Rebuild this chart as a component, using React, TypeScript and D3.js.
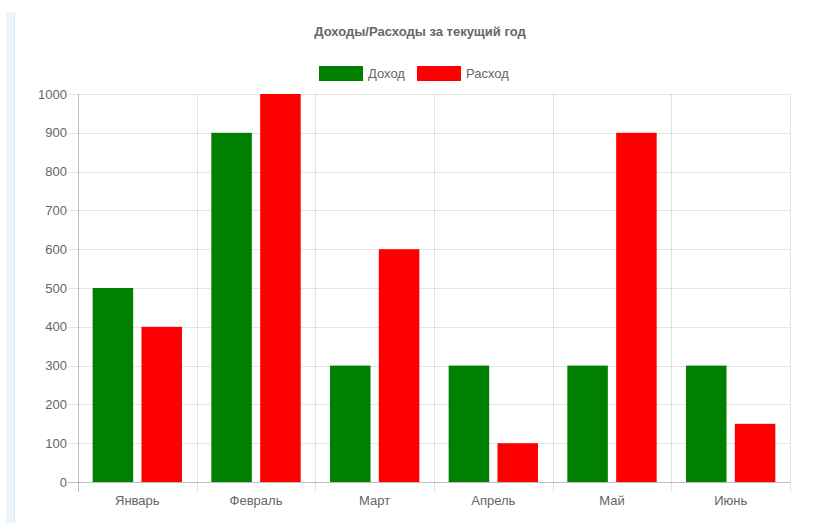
import React, { useRef, useEffect } from 'react';
import * as d3 from 'd3';

const months = ['Январь', 'Февраль', 'Март', 'Апрель', 'Май', 'Июнь'];
const seriesNames = ['Доход', 'Расход'];
const seriesColors = ['#008000', '#ff0000'];
const income = [500, 900, 300, 300, 300, 300];
const expense = [400, 1000, 600, 100, 900, 150];
const yTicks = [0, 100, 200, 300, 400, 500, 600, 700, 800, 900, 1000];
const title = 'Доходы/Расходы за текущий год';

const W = 814;
const H = 523;
const FONT = '"Liberation Sans", Arial, Helvetica, sans-serif';

export default function App() {
  const svgRef = useRef<SVGSVGElement | null>(null);

  useEffect(() => {
    const svg = d3.select(svgRef.current);
    svg.selectAll('*').remove();

    const left = 78;
    const right = 790;
    const top = 94;
    const bottom = 482;

    // светлая полоса слева
    svg.append('rect').attr('x', 6).attr('y', 12).attr('width', 9).attr('height', H - 12).attr('fill', '#eef5fc');
    svg.append('line').attr('x1', 14.5).attr('x2', 14.5).attr('y1', 12).attr('y2', H).attr('stroke', '#dbe9f6');

    const x = d3.scaleBand<string>().domain(months).range([left, right]).padding(0);
    const xs = d3.scaleBand<string>().domain(seriesNames).range([0, x.bandwidth()]).paddingInner(0.17).paddingOuter(0.3);
    const y = d3.scaleLinear().domain([0, 1000]).range([bottom, top]);

    // горизонтальная сетка
    svg
      .append('g')
      .selectAll('line')
      .data(yTicks)
      .join('line')
      .attr('x1', left - 10)
      .attr('x2', right)
      .attr('y1', (d) => Math.round(y(d)) + 0.5)
      .attr('y2', (d) => Math.round(y(d)) + 0.5)
      .attr('stroke', (d) => (d === 0 ? 'rgba(0,0,0,0.25)' : 'rgba(0,0,0,0.1)'));

    // вертикальная сетка
    const xLines = months.map((m) => x(m) as number).concat([right]);
    svg
      .append('g')
      .selectAll('line')
      .data(xLines)
      .join('line')
      .attr('x1', (d) => Math.round(d) + 0.5)
      .attr('x2', (d) => Math.round(d) + 0.5)
      .attr('y1', top)
      .attr('y2', bottom + 10)
      .attr('stroke', (d, i) => (i === 0 ? 'rgba(0,0,0,0.25)' : 'rgba(0,0,0,0.1)'));

    svg
      .append('g')
      .selectAll('text')
      .data(yTicks)
      .join('text')
      .attr('x', left - 11)
      .attr('y', (d) => y(d))
      .attr('dy', '0.35em')
      .attr('text-anchor', 'end')
      .attr('font-family', FONT)
      .attr('font-size', 13)
      .attr('fill', '#666')
      .text((d) => d);

    svg
      .append('g')
      .selectAll('text')
      .data(months)
      .join('text')
      .attr('x', (d) => (x(d) as number) + x.bandwidth() / 2)
      .attr('y', 500)
      .attr('dy', '0.35em')
      .attr('text-anchor', 'middle')
      .attr('font-family', FONT)
      .attr('font-size', 13)
      .attr('fill', '#666')
      .text((d) => d);

    const values = [income, expense];
    seriesNames.forEach((s, si) => {
      svg
        .append('g')
        .selectAll('rect')
        .data(months)
        .join('rect')
        .attr('x', (d) => (x(d) as number) + (xs(s) as number))
        .attr('y', (d, i) => y(values[si][i]))
        .attr('width', xs.bandwidth())
        .attr('height', (d, i) => bottom - y(values[si][i]))
        .attr('fill', seriesColors[si]);
    });

    svg
      .append('text')
      .attr('x', 420)
      .attr('y', 31)
      .attr('dy', '0.35em')
      .attr('text-anchor', 'middle')
      .attr('font-family', FONT)
      .attr('font-size', 13)
      .attr('font-weight', 'bold')
      .attr('fill', '#666')
      .text(title);

    // легенда
    const legendX = [319, 417];
    seriesNames.forEach((s, i) => {
      svg.append('rect').attr('x', legendX[i]).attr('y', 66).attr('width', 44).attr('height', 15).attr('fill', seriesColors[i]);
      svg
        .append('text')
        .attr('x', legendX[i] + 49)
        .attr('y', 73)
        .attr('dy', '0.35em')
        .attr('font-family', FONT)
        .attr('font-size', 13)
        .attr('fill', '#666')
        .text(s);
    });
  }, []);

  return (
    <svg
      ref={svgRef}
      width={W}
      height={H}
      style={{ position: 'absolute', left: 0, top: 0, background: '#fff' }}
      xmlns="http://www.w3.org/2000/svg"
    />
  );
}
